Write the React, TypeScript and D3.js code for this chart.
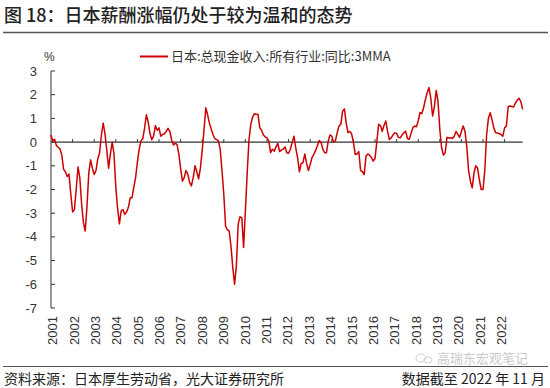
import React from 'react';
import * as d3 from 'd3';

const title = '图 18：日本薪酬涨幅仍处于较为温和的态势';
const seriesName = '日本:总现金收入:所有行业:同比:3MMA';
const unitLabel = '%';
const sourceText = '资料来源：日本厚生劳动省，光大证券研究所';
const dateNote = '数据截至 2022 年 11 月';
const watermark = '高瑞东宏观笔记';

const yearLabels = ['2001','2002','2003','2004','2005','2006','2007','2008','2009','2010','2011','2012','2013','2014','2015','2016','2017','2018','2019','2020','2021','2022'];
const yTicks = [3, 2, 1, 0, -1, -2, -3, -4, -5, -6, -7];

// Monthly values, Jan 2001 .. Nov 2022 (%, yoy, 3-month moving average)
const wageGrowth: number[] = [
  0.3, 0.05, 0.12, -0.15, -0.22, -0.28, -0.55, -1.15, -1.25, -1.45, -1.35, -2.2,
  -2.95, -2.85, -2.0, -1.05, -1.5, -2.6, -3.4, -3.75, -2.7, -1.3, -0.75, -1.1,
  -1.37, -1.2, -0.7, -0.45, 0.3, 0.8, 0.35, -0.35, -1.1, -0.5, 0.0, -0.5,
  -1.9, -2.8, -3.45, -2.9, -2.85, -3.05, -2.95, -2.75, -2.35, -2.35, -1.9, -1.5,
  -0.85, -0.3, 0.05, 0.15, 0.6, 1.15, 0.85, 0.35, 0.1, 0.25, 0.7, 0.5,
  0.6, 0.25, 0.32, 0.35, 0.45, 0.58, 0.45, 0.1, -0.12, -0.05, -0.1, -0.5,
  -1.1, -1.65, -1.5, -1.2, -1.35, -1.7, -1.85, -1.5, -1.0, -1.25, -1.55, -1.1,
  -0.35, 0.5, 1.45, 1.15, 0.8, 0.55, 0.32, 0.15, 0.1, 0.05, -0.3, -1.2,
  -2.2, -3.55, -3.7, -3.75, -4.4, -5.3, -6.0, -5.2, -3.45, -3.15, -3.2, -4.45,
  -2.9, -1.3, 0.1, 0.75, 1.05, 1.2, 1.17, 1.17, 0.6, 0.5, 0.3, 0.22,
  0.18, 0.05, -0.45, -0.3, -0.38, -0.2, -0.05, -0.4, -0.34, -0.3, -0.2, -0.45,
  -0.47, -0.3, 0.0, 0.25, -0.25, -0.66, -1.25, -0.9, -0.87, -0.5, -0.9, -1.2,
  -0.95, -0.65, -0.52, -0.35, -0.15, 0.07, 0.0, -0.3, -0.45, -0.45, 0.04, 0.3,
  0.25, 0.0, 0.05, 0.4, 0.68, 0.75, 1.3, 1.4, 0.8, 0.4, 0.45, 0.35,
  0.0, -0.52, -0.5, -0.4, -1.2, -1.25, -1.37, -0.6, -0.5, -0.55, -0.65, -0.8,
  -0.7, 0.0, 0.75, 0.7, 0.46, 0.7, 0.89, 0.45, 0.11, 0.18, 0.3, 0.39,
  0.37, 0.2, 0.18, 0.3, 0.39, 0.46, 0.15, 0.12, 0.35, 0.6, 0.68, 0.65,
  0.89, 1.25, 1.2, 1.45, 1.8, 2.08, 2.3, 1.85, 1.1, 1.5, 2.18, 1.73,
  0.54, -0.24, -0.55, -0.45, 0.2, 0.17, 0.18, 0.15, 0.25, 0.45, 0.33, 0.2,
  0.45, 0.68, 0.45, -0.2, -1.2, -1.65, -1.93, -1.3, -1.0, -1.1, -1.6, -2.0,
  -2.0, -1.2, 0.3, 1.0, 1.24, 0.95, 0.6, 0.4, 0.38, 0.36, 0.32, 0.25,
  0.6, 0.68, 1.5, 1.52, 1.5, 1.48, 1.65, 1.77, 1.85, 1.72, 1.38,
];

const W = 550;
const H = 388;
const CJK = '"Noto Sans CJK SC", "Noto Sans", sans-serif';
const NUM = '"Liberation Sans", Arial, sans-serif';

export default function App() {
  const x = d3.scaleLinear().domain([0, 12]).range([51, 72.6]); // months since Jan 2001
  const y = d3.scaleLinear().domain([-7, 3]).range([308, 71]);
  const labelX = d3.scalePoint<string>().domain(yearLabels).range([52.7, 501.7]);

  const line = d3
    .line<number>()
    .x((_, i) => x(i))
    .y((d) => y(d))
    .curve(d3.curveLinear);

  const lastIdx = wageGrowth.length - 1;
  const axisColor = '#333';

  return (
    <svg
      width={W}
      height={H}
      style={{ position: 'absolute', left: 0, top: 0, background: '#fff' }}
    >
      <text x={4} y={22} fontFamily={CJK} fontSize={18} fill="#222" fontWeight={500}>
        {title}
      </text>
      <line x1={3} x2={548} y1={32.5} y2={32.5} stroke="#555" strokeWidth={1.5} />

      {/* legend */}
      <text x={44} y={61} fontFamily={NUM} fontSize={12} fill="#333">{unitLabel}</text>
      <line x1={140} x2={168} y1={56.5} y2={56.5} stroke="#cc0000" strokeWidth={2} />
      <text x={171} y={61} fontFamily={CJK} fontSize={13} fill="#333">{seriesName}</text>

      {/* y axis */}
      <line x1={x(0)} x2={x(0)} y1={y(3)} y2={y(-7)} stroke={axisColor} strokeWidth={1} />
      {yTicks.map((t) => (
        <g key={t}>
          <line x1={x(0)} x2={x(0) + 4} y1={y(t)} y2={y(t)} stroke={axisColor} strokeWidth={1} />
          <text
            x={37}
            y={y(t) + 4.5}
            textAnchor="end"
            fontFamily={NUM}
            fontSize={13}
            fill="#333"
          >
            {t}
          </text>
        </g>
      ))}

      {/* x axis at zero */}
      <line x1={x(0)} x2={x(lastIdx)} y1={y(0)} y2={y(0)} stroke={axisColor} strokeWidth={1.2} />
      {yearLabels.map((yl, i) => (
        <g key={yl}>
          {i > 0 && (
            <line x1={x(i * 12)} x2={x(i * 12)} y1={y(0)} y2={y(0) - 3} stroke={axisColor} strokeWidth={1} />
          )}
          <text
            transform={`translate(${(labelX(yl) as number) + 4.5},316) rotate(-90)`}
            textAnchor="end"
            fontFamily={NUM}
            fontSize={13}
            fill="#333"
          >
            {yl}
          </text>
        </g>
      ))}

      {/* series */}
      <path d={line(wageGrowth) || ''} fill="none" stroke="#cc0000" strokeWidth={1.5} strokeLinejoin="round" />

      {/* footer */}
      <line x1={3} x2={548} y1={366.5} y2={366.5} stroke="#555" strokeWidth={1.2} />
      <g opacity={0.35}>
        <ellipse cx={421} cy={358} rx={5} ry={4} fill="none" stroke="#777" strokeWidth={1} />
        <ellipse cx={428} cy={360} rx={4} ry={3.2} fill="none" stroke="#777" strokeWidth={1} />
        <text x={437} y={363} fontFamily={CJK} fontSize={13} fill="#666">{watermark}</text>
      </g>
      <text x={4} y={384} fontFamily={CJK} fontSize={14} fill="#222">{sourceText}</text>
      <text x={545} y={384} textAnchor="end" fontFamily={CJK} fontSize={14} fill="#222">{dateNote}</text>
    </svg>
  );
}
